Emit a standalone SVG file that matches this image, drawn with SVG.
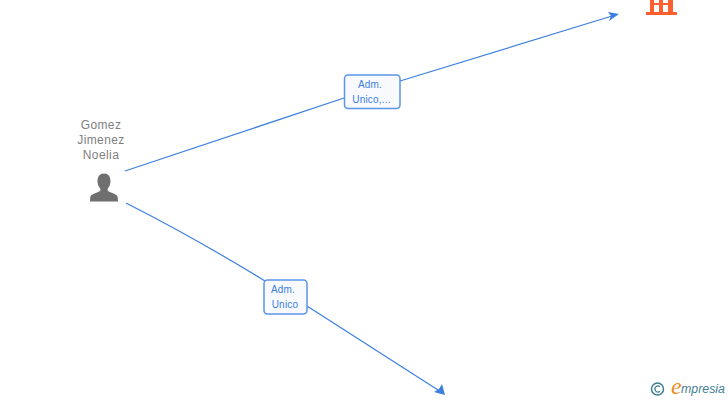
<svg xmlns="http://www.w3.org/2000/svg" width="728" height="400" viewBox="0 0 728 400">
<style>
.c{fill:none;stroke:#3b7fdf;stroke-width:1.2}
.h{fill:#3b7fdf}
.b{fill:#f8fafd;stroke:#5b96e6;stroke-width:1.5}
.l{font:10px "Liberation Sans",Arial,sans-serif;letter-spacing:.2px;fill:#3b7fdf;text-anchor:middle}
.n{font:12px "Liberation Sans",Arial,sans-serif;letter-spacing:.4px;fill:#808080;text-anchor:middle}
</style>
<rect width="728" height="400" fill="#fff"/>
<g id="connectors">
<path class="c" d="M125 171 L344 98"/>
<path class="c" d="M400 81 L612 16"/>
<path class="h" d="M619 14 L609 21 L611 16 L608 12Z"/>
<path class="c" d="M126 203 Q195 238 265 281"/>
<path class="c" d="M307 306 L438 390"/>
<path class="h" d="M445 395 L434 392 L439 389 L442 384Z"/>
</g>
<g id="person">
<text class="n" x="101" y="129">Gomez</text>
<text class="n" x="101" y="144">Jimenez</text>
<text class="n" x="101" y="159">Noelia</text>
<path fill="#6f6f6f" d="M104 173.500C99.500 173.500 97.500 177 97.500 181C97.500 184.500 99 187.500 100.500 189C100.500 191 99.500 191.500 97 192.500C93.500 193.800 90.500 194.500 90.200 198L90 201.500L118 201.500L117.800 198C117.500 194.500 114.500 193.800 111 192.500C108.500 191.500 107.500 191 107.500 189C109 187.500 110.500 184.500 110.500 181C110.500 177 108.500 173.500 104 173.500Z"/>
</g>
<g id="company">
<path fill="#ff5f2e" d="M650 0H673V12H677V15H646V12H650ZM654 0V3H659V0ZM663 0V3H668V0ZM654 5V12H659V5ZM663 5V12H668V5Z" fill-rule="evenodd"/>
</g>
<g id="label1">
<rect class="b" x="344.500" y="75" width="55.500" height="33.500" rx="3.500"/>
<text class="l" x="370" y="88">Adm.</text>
<text class="l" x="371.500" y="103">Unico,...</text>
</g>
<g id="label2">
<rect class="b" x="264" y="280" width="43" height="34" rx="3.500"/>
<text class="l" x="283" y="293">Adm.</text>
<text class="l" x="285" y="308">Unico</text>
</g>
<g id="brand">
<circle cx="657.500" cy="389" r="6" fill="none" stroke="#3f7f93" stroke-width="1.500"/>
<path d="M660 386.800A3 3 0 1 0 660 391.200" fill="none" stroke="#3f7f93" stroke-width="1.200"/>
<text x="671" y="394" font-family="Liberation Serif,serif" font-style="italic" font-size="24" fill="#f08a1d">e</text>
<text x="681" y="393" font-family="Liberation Sans,sans-serif" font-style="italic" font-size="12" textLength="44" lengthAdjust="spacingAndGlyphs" fill="#3f7f93">mpresia</text>
</g>
</svg>
